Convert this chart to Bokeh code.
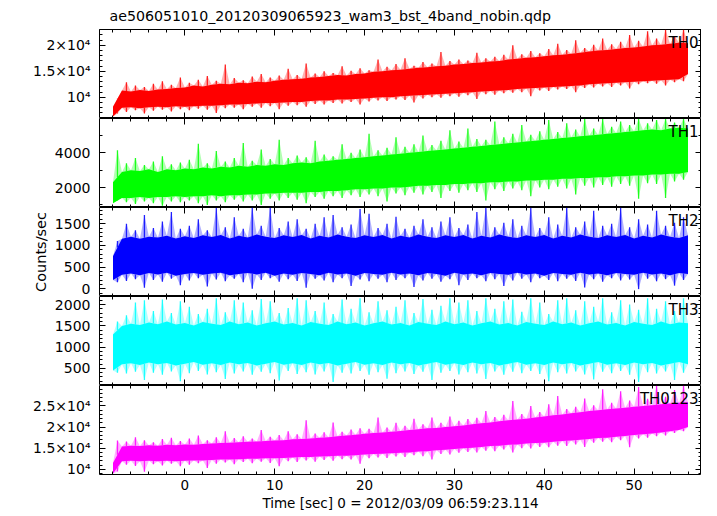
import numpy as np
from bokeh.plotting import figure
from bokeh.layouts import column
from bokeh.models import (Range1d, LinearAxis, SingleIntervalTicker, Label,
                          CustomLabelingPolicy)
from bokeh.embed import file_html
from bokeh.resources import INLINE

# ---------------- data ----------------
title_text = "ae506051010_20120309065923_wam3_bst_4band_nobin.qdp"
x_label = "Time [sec] 0 = 2012/03/09 06:59:23.114"
y_label = "Counts/sec"
band_names = ["TH0", "TH1", "TH2", "TH3", "TH0123"]
band_colors = ["#ff0000", "#00ff00", "#0000ff", "#00ffff", "#ff00ff"]

# 0.5-second time bins (s)
t = [-8.0, -7.5, -7.0, -6.5, -6.0, -5.5, -5.0, -4.5, -4.0, -3.5,
     -3.0, -2.5, -2.0, -1.5, -1.0, -0.5, 0.0, 0.5, 1.0, 1.5,
     2.0, 2.5, 3.0, 3.5, 4.0, 4.5, 5.0, 5.5, 6.0, 6.5,
     7.0, 7.5, 8.0, 8.5, 9.0, 9.5, 10.0, 10.5, 11.0, 11.5,
     12.0, 12.5, 13.0, 13.5, 14.0, 14.5, 15.0, 15.5, 16.0, 16.5,
     17.0, 17.5, 18.0, 18.5, 19.0, 19.5, 20.0, 20.5, 21.0, 21.5,
     22.0, 22.5, 23.0, 23.5, 24.0, 24.5, 25.0, 25.5, 26.0, 26.5,
     27.0, 27.5, 28.0, 28.5, 29.0, 29.5, 30.0, 30.5, 31.0, 31.5,
     32.0, 32.5, 33.0, 33.5, 34.0, 34.5, 35.0, 35.5, 36.0, 36.5,
     37.0, 37.5, 38.0, 38.5, 39.0, 39.5, 40.0, 40.5, 41.0, 41.5,
     42.0, 42.5, 43.0, 43.5, 44.0, 44.5, 45.0, 45.5, 46.0, 46.5,
     47.0, 47.5, 48.0, 48.5, 49.0, 49.5, 50.0, 50.5, 51.0, 51.5,
     52.0, 52.5, 53.0, 53.5, 54.0, 54.5, 55.0, 55.5, 56.0]

# upper / lower edge of each light-curve band per bin (counts/sec)
th0_hi = [8200, 9800, 11300, 12900, 11100, 12300, 11400, 12000, 11200, 12600,
          11500, 13100, 11600, 12400, 11800, 13800, 11900, 12800, 12300, 13400,
          12100, 14100, 12400, 13200, 12600, 16300, 12500, 13700, 12800, 13300,
          12700, 14000, 13000, 14500, 12900, 13800, 13200, 14200, 13400, 15500,
          13500, 14300, 13600, 16500, 13800, 14600, 13900, 15000, 14100, 14700,
          14300, 16000, 14200, 15100, 14500, 15600, 14600, 15200, 14900, 17300,
          15000, 15900, 15200, 16400, 15300, 17500, 15500, 16100, 15700, 16800,
          15800, 16500, 16000, 18700, 16100, 17000, 16300, 17300, 16400, 17100,
          16600, 18600, 16700, 17500, 16900, 17800, 17000, 18200, 17300, 20000,
          17400, 18300, 17600, 18900, 17700, 18500, 17900, 19300, 18100, 20300,
          18200, 19100, 18400, 21000, 18600, 19500, 18800, 20100, 19000, 21300,
          19100, 20200, 19300, 20700, 19500, 22000, 19600, 20900, 19800, 22700,
          20000, 21300, 20100, 23000, 20300, 21800, 20500, 23000, 20400]
th0_lo = [6300, 6900, 8000, 7200, 8100, 7500, 7900, 6900, 8100, 7400,
          8200, 7600, 8100, 7300, 8300, 7700, 8200, 7500, 8300, 7800,
          8400, 7600, 8400, 7000, 8500, 7900, 8600, 8000, 8600, 7700,
          8700, 8200, 8800, 8000, 8900, 8300, 8900, 7700, 9000, 8400,
          9100, 8500, 9100, 8200, 9300, 8700, 9400, 8600, 9400, 8900,
          9600, 8800, 9600, 9100, 9700, 8600, 9800, 9200, 9900, 9400,
          10000, 9300, 10000, 9600, 10200, 9500, 10300, 9000, 10400, 9800,
          10500, 10000, 10600, 9900, 10700, 10200, 10800, 10100, 10900, 10400,
          11000, 9700, 11100, 10600, 11200, 10500, 11300, 10800, 11400, 10900,
          11600, 11000, 11700, 10200, 11800, 11300, 11900, 11200, 12000, 11500,
          12100, 11600, 12200, 11000, 12300, 11800, 12500, 11900, 12600, 12100,
          12700, 12000, 12800, 12300, 12900, 11700, 13000, 12500, 13100, 12700,
          13200, 12600, 13300, 12300, 13400, 12900, 13500, 13100, 14500]

th1_hi = [2300, 4150, 2900, 3400, 3000, 3700, 2950, 3300, 3050, 3500,
          2900, 3800, 3050, 3350, 3000, 3450, 3100, 3600, 3050, 4530,
          3150, 3400, 3100, 4100, 3200, 3500, 3150, 3700, 3250, 4570,
          3200, 3550, 3300, 4200, 3250, 3650, 3350, 4760, 3300, 3700,
          3400, 3850, 3450, 3750, 3400, 4700, 3500, 3900, 3550, 3800,
          3600, 4500, 3650, 4000, 3700, 4200, 3750, 5100, 3800, 4150,
          3850, 4300, 3900, 4900, 3950, 4350, 4000, 4500, 4050, 5000,
          4100, 4450, 4150, 4700, 4200, 5300, 4250, 4650, 4300, 5400,
          4350, 4800, 4400, 4750, 4450, 5800, 4500, 4900, 4550, 5100,
          4600, 5600, 4650, 5050, 4700, 5250, 4750, 5900, 4800, 5200,
          4850, 5700, 4900, 5350, 4950, 5950, 5000, 5400, 5050, 5950,
          5100, 5500, 5150, 5800, 5200, 5600, 5250, 5950, 5300, 5700,
          5350, 5900, 5300, 5950, 5400, 5750, 5450, 5950, 5400]
th1_lo = [1100, 1300, 1400, 1150, 1400, 1050, 1450, 1200, 1400, 1100,
          1450, 950, 1450, 1200, 1500, 1150, 1450, 1250, 1500, 1100,
          1500, 1000, 1550, 1250, 1500, 1150, 1550, 1300, 1550, 1200,
          1600, 1250, 1600, 1000, 1650, 1350, 1650, 1250, 1700, 1400,
          1700, 1300, 1700, 1100, 1750, 1450, 1750, 1350, 1800, 1500,
          1800, 1400, 1850, 1550, 1900, 1450, 1900, 1600, 1950, 1500,
          1950, 1200, 2000, 1650, 2000, 1550, 2050, 1700, 2100, 1600,
          2100, 1750, 2150, 1400, 2150, 1800, 2200, 1700, 2200, 1850,
          2250, 1750, 2250, 1250, 2300, 1900, 2300, 1800, 2350, 1950,
          2350, 1850, 2400, 1500, 2400, 2000, 2450, 1900, 2450, 2050,
          2500, 1950, 2500, 1600, 2550, 2100, 2550, 2000, 2600, 2150,
          2600, 2050, 2650, 2200, 2650, 2100, 2700, 1350, 2700, 2250,
          2750, 2200, 2750, 1400, 2800, 2350, 2800, 2450, 2900]

th2_hi = [750, 1100, 1150, 1500, 1200, 1350, 1150, 1700, 1200, 1400,
          1180, 1550, 1220, 1770, 1160, 1380, 1210, 1450, 1170, 1600,
          1230, 1350, 1190, 1860, 1240, 1420, 1160, 1650, 1220, 1380,
          1180, 1870, 1250, 1450, 1200, 1870, 1170, 1400, 1230, 1550,
          1190, 1600, 1240, 1380, 1160, 1500, 1220, 1650, 1180, 1700,
          1250, 1420, 1200, 1480, 1170, 1840, 1230, 1730, 1190, 1400,
          1240, 1500, 1160, 1660, 1220, 1380, 1180, 1450, 1250, 1600,
          1200, 1420, 1170, 1550, 1230, 1650, 1190, 1400, 1240, 1480,
          1160, 1770, 1220, 1870, 1180, 1420, 1250, 1520, 1200, 1600,
          1170, 1450, 1230, 1870, 1190, 1400, 1240, 1650, 1160, 1480,
          1220, 1870, 1180, 1420, 1250, 1550, 1200, 1800, 1170, 1450,
          1230, 1500, 1190, 1870, 1240, 1420, 1160, 1600, 1220, 1480,
          1180, 1800, 1250, 1450, 1200, 1520, 1170, 1650, 1230]
th2_lo = [200, 150, 320, 180, 350, 220, 310, 20, 360, 200,
          330, 160, 370, 230, 300, 80, 340, 190, 360, 240,
          320, 50, 350, 210, 370, 170, 310, 230, 340, 150,
          360, 0, 330, 200, 370, 240, 300, 160, 350, 220,
          320, 180, 360, 20, 340, 230, 310, 190, 370, 150,
          330, 240, 350, 60, 300, 210, 360, 170, 340, 230,
          320, 150, 370, 200, 330, 240, 350, 40, 310, 190,
          360, 230, 340, 160, 300, 220, 370, 80, 330, 200,
          350, 240, 310, 170, 360, 220, 340, 60, 320, 190,
          370, 230, 330, 150, 350, 240, 300, 200, 360, 170,
          340, 230, 320, 180, 370, 30, 330, 220, 350, 160,
          310, 240, 360, 190, 340, 210, 320, -10, 370, 230,
          330, 170, 350, 220, 310, 70, 360, 200, 340]

th3_hi = [1300, 1600, 1500, 1750, 1550, 2050, 1520, 2100, 1580, 1850,
          1540, 2120, 1600, 1800, 1530, 2080, 1570, 1950, 1510, 1780,
          1590, 1900, 1550, 2150, 1520, 1820, 1600, 2100, 1540, 2050,
          1580, 1870, 1510, 2130, 1560, 2080, 1600, 1800, 1530, 1920,
          1570, 2150, 1510, 2100, 1590, 1850, 1550, 2050, 1520, 1780,
          1600, 2120, 1540, 1900, 1580, 2150, 1510, 1820, 1560, 2080,
          1600, 1870, 1530, 1950, 1570, 2100, 1510, 1800, 1590, 2130,
          1550, 1880, 1520, 1970, 1600, 2150, 1540, 2050, 1580, 2100,
          1510, 1850, 1560, 2150, 1600, 1900, 1530, 2080, 1570, 2120,
          1510, 1830, 1590, 2150, 1550, 2050, 1520, 1780, 1600, 2100,
          1540, 2150, 1580, 1870, 1510, 2080, 1560, 1950, 1600, 2150,
          1530, 1820, 1570, 2100, 1510, 2000, 1590, 1880, 1550, 2150,
          1520, 1900, 1600, 2080, 1540, 1850, 1580, 2150, 1560]
th3_lo = [450, 400, 600, 380, 620, 420, 580, 230, 640, 400,
          600, 350, 630, 430, 570, 200, 610, 390, 650, 440,
          590, 360, 620, 410, 580, 250, 640, 380, 600, 430,
          630, 350, 570, 420, 610, 390, 650, 220, 590, 440,
          620, 370, 580, 410, 640, 360, 600, 430, 630, 180,
          570, 400, 610, 380, 650, 440, 590, 350, 620, 410,
          580, 260, 640, 390, 600, 430, 630, 370, 570, 420,
          610, 230, 650, 400, 590, 440, 620, 360, 580, 410,
          640, 380, 600, 250, 630, 430, 570, 350, 610, 420,
          650, 390, 590, 440, 620, 370, 580, 200, 640, 410,
          600, 380, 630, 430, 570, 360, 610, 240, 650, 420,
          590, 390, 620, 440, 580, 350, 640, 180, 600, 410,
          630, 380, 570, 430, 610, 230, 650, 400, 600]

th0123_hi = [11500, 16800, 15400, 16600, 15600, 17600, 15500, 16900, 15700, 16400,
             15600, 17200, 15800, 17500, 15700, 16700, 15900, 17300, 15800, 18000,
             16000, 16900, 16100, 17600, 16200, 19000, 16300, 17400, 16400, 17800,
             16500, 17300, 16600, 19300, 16700, 17700, 16800, 18100, 16900, 19000,
             17100, 18300, 17200, 21600, 17300, 18500, 17500, 18800, 17600, 21100,
             17800, 18900, 18000, 19400, 18200, 19700, 18400, 19600, 18600, 22300,
             18700, 19900, 18900, 21000, 19100, 20300, 19300, 22000, 19500, 20700,
             19700, 22300, 19800, 21000, 20000, 22500, 20200, 21500, 20400, 21900,
             20700, 22200, 20900, 23800, 21100, 22400, 21400, 22900, 21600, 26200,
             21800, 23100, 22000, 25000, 22300, 23600, 22500, 25400, 22800, 27400,
             23000, 24300, 23300, 24800, 23500, 26800, 23800, 25200, 24000, 29000,
             24200, 25800, 24400, 28500, 24600, 26300, 24800, 29500, 25000, 26700,
             25200, 29800, 25400, 27200, 25600, 28800, 25800, 29800, 25900]
th0123_lo = [9000, 9500, 11900, 11100, 12000, 10800, 11900, 9400, 12000, 11200,
             11900, 10900, 12000, 11300, 11900, 10700, 12000, 11100, 12100, 11400,
             12100, 10300, 12200, 11300, 12300, 11600, 12300, 11200, 12400, 11700,
             12500, 11400, 12500, 11800, 12600, 11500, 12600, 10700, 12700, 11900,
             12800, 11700, 12900, 12100, 12900, 11800, 13000, 12200, 13100, 12000,
             13200, 12400, 13200, 12300, 13300, 11300, 13500, 12600, 13600, 12800,
             13700, 12700, 13800, 13000, 13900, 12900, 14000, 13300, 14200, 13100,
             14300, 12300, 14500, 13600, 14600, 13500, 14800, 13900, 15000, 14100,
             15100, 14000, 15300, 14400, 15500, 14300, 15600, 14700, 15800, 14000,
             15900, 15000, 16100, 14900, 16200, 15300, 16300, 15200, 16500, 15600,
             16700, 15500, 16800, 15900, 17000, 15300, 17200, 16300, 17400, 16500,
             17500, 16400, 17700, 16900, 17900, 15200, 18100, 17300, 18300, 17500,
             18500, 17800, 18700, 18000, 19000, 18600, 19300, 19000, 20000]

# axis settings
x_major = 10
y_ranges = [(5930, 23050), (850, 5980), (-180, 1873), (100, 2190), (8760, 29860)]
y_major = [5000, 2000, 500, 500, 5000]
y_minor = [5, 2, 5, 5, 5]
sci_labels = {10000: "10\u2074", 15000: "1.5\u00d710\u2074",
              20000: "2\u00d710\u2074", 25000: "2.5\u00d710\u2074"}

# ---------------- drawing ----------------
FONT = "DejaVu Sans"
XR = Range1d(-9.5, 57.5)

bands = [(th0_hi, th0_lo), (th1_hi, th1_lo), (th2_hi, th2_lo),
         (th3_hi, th3_lo), (th0123_hi, th0123_lo)]

NO_LABELS = "if (false) { yield 0 }"


def style_axis(ax, show_labels, size="13.5px"):
    ax.major_tick_in = 6
    ax.major_tick_out = 0
    ax.minor_tick_in = 3
    ax.minor_tick_out = 0
    ax.major_tick_line_color = "black"
    ax.minor_tick_line_color = "black"
    ax.axis_line_color = None
    if show_labels:
        ax.major_label_text_font = FONT
        ax.major_label_text_font_size = size
        ax.major_label_text_color = "black"
    else:
        ax.major_label_policy = CustomLabelingPolicy(code=NO_LABELS)
        ax.major_label_text_font_size = "0px"
        ax.major_label_text_line_height = 0
        ax.major_label_standoff = 0


figs = []
for i in range(5):
    hi, lo = bands[i]
    color = band_colors[i]
    p = figure(frame_width=602, frame_height=89, x_range=XR,
               y_range=Range1d(*y_ranges[i]),
               output_backend="svg", toolbar_location=None, tools="",
               x_axis_location=None, y_axis_location=None,
               min_border_left=99, min_border_right=0,
               min_border_top=0, min_border_bottom=0)
    p.outline_line_color = "black"
    p.outline_line_width = 1
    p.xgrid.visible = False
    p.ygrid.visible = False
    p.background_fill_color = "white"
    p.border_fill_color = "white"

    xt = SingleIntervalTicker(interval=x_major, num_minor_ticks=5)
    yt = SingleIntervalTicker(interval=y_major[i], num_minor_ticks=y_minor[i])

    bottom = LinearAxis(ticker=xt)
    style_axis(bottom, show_labels=(i == 4))
    if i == 4:
        bottom.major_label_standoff = 5
        bottom.major_label_text_line_height = 1.0
        bottom.axis_label = x_label
        bottom.axis_label_text_font = FONT
        bottom.axis_label_text_font_size = "13.5px"
        bottom.axis_label_text_font_style = "normal"
        bottom.axis_label_text_color = "black"
        bottom.axis_label_text_line_height = 1.0
        bottom.axis_label_standoff = 2
    p.add_layout(bottom, "below")

    top = LinearAxis(ticker=xt)
    style_axis(top, show_labels=False)
    p.add_layout(top, "above")

    left = LinearAxis(ticker=yt)
    style_axis(left, show_labels=True, size="14px")
    left.major_label_standoff = 9
    left.major_label_text_line_height = 1.0
    if y_major[i] == 5000:
        left.major_label_overrides = sci_labels
    if i == 2:
        left.axis_label = y_label
        left.axis_label_text_font = FONT
        left.axis_label_text_font_size = "14.5px"
        left.axis_label_text_font_style = "normal"
        left.axis_label_text_color = "black"
        left.axis_label_standoff = 3
    p.add_layout(left, "left")

    right = LinearAxis(ticker=yt)
    style_axis(right, show_labels=False)
    p.add_layout(right, "right")

    ta = np.array(t, dtype=float)
    hia = np.array(hi, dtype=float)
    loa = np.array(lo, dtype=float)
    # faint fringe through all bins
    p.varea(x=ta, y1=loa, y2=hia, fill_color=color, fill_alpha=0.3)
    # dense core of the light curve (whole-second bins), solid
    tc, hc, lc = ta[::2], hia[::2], loa[::2]
    p.varea(x=tc, y1=lc, y2=hc, fill_color=color, fill_alpha=1.0)
    # noise peaks and dips (half-second bins) as thin spikes off the core
    th, hh, lh = ta[1::2], hia[1::2], loa[1::2]
    p.segment(x0=th, y0=np.interp(th, tc, hc), x1=th, y1=hh,
              line_color=color, line_width=1.3, line_alpha=0.85)
    p.segment(x0=th, y0=np.interp(th, tc, lc), x1=th, y1=lh,
              line_color=color, line_width=1.3, line_alpha=0.85)

    p.add_layout(Label(x=XR.end, y=y_ranges[i][1], x_offset=-3, y_offset=-4,
                       text=band_names[i], text_align="right", text_baseline="top",
                       text_font=FONT, text_font_size="15px", text_color="black"))

    if i == 0:
        p.title.text = title_text
        p.title.text_font = FONT
        p.title.text_font_size = "14.2px"
        p.title.text_font_style = "normal"
        p.title.text_color = "black"
        p.title.align = "left"
        p.title.offset = 10
        p.title.standoff = 11
    figs.append(p)

layout = column(figs, spacing=0)
open("out.html", "w").write(file_html(layout, INLINE))
